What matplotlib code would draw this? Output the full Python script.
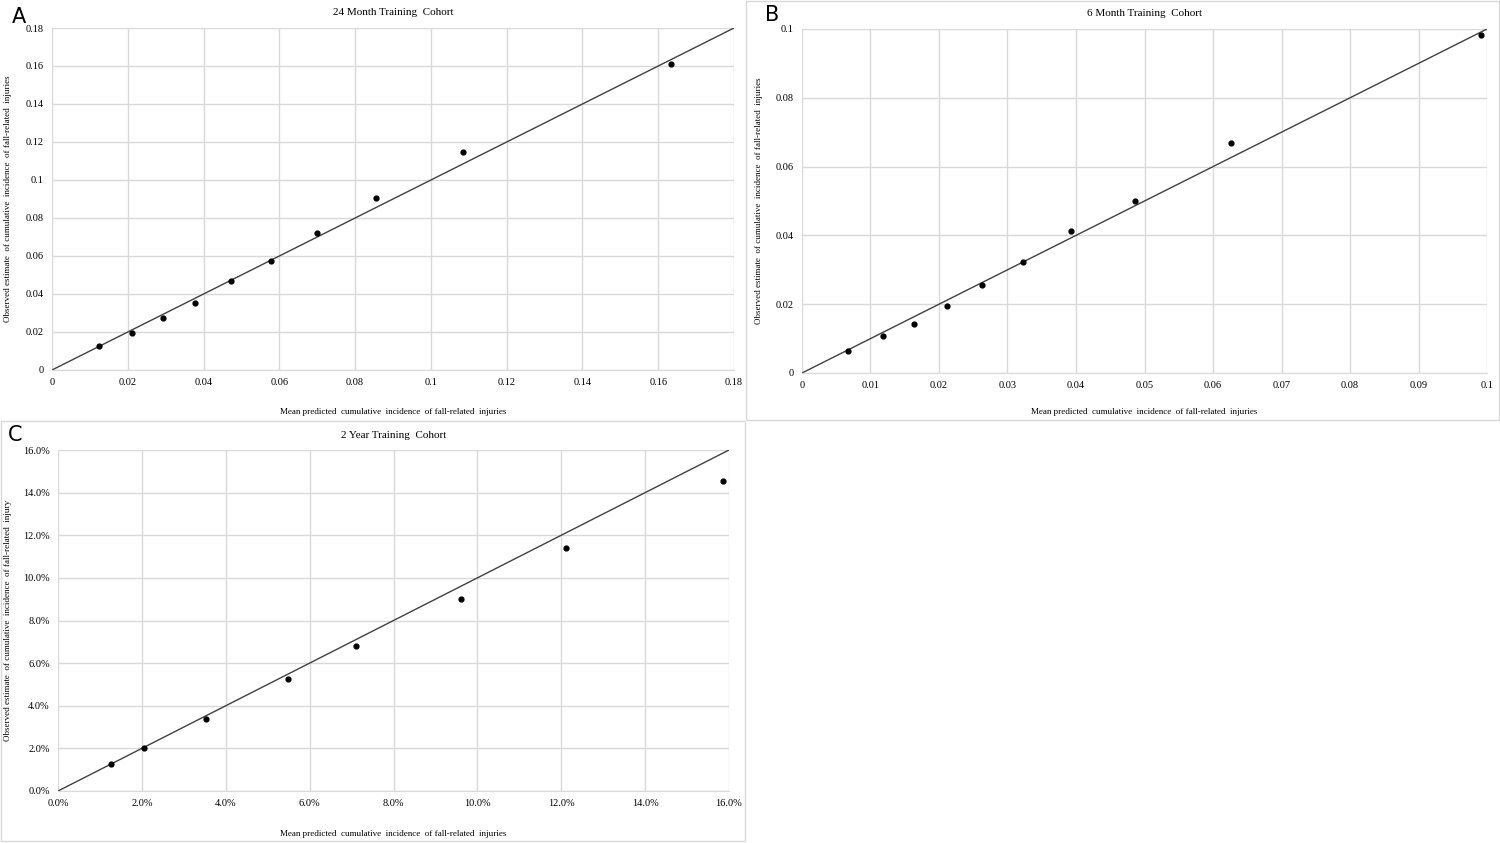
import numpy as np
import matplotlib.pyplot as plt
from matplotlib.ticker import FuncFormatter
from matplotlib.patches import Rectangle

# panel A: 24 month training cohort
pred_24m = [0.0123, 0.0211, 0.0294, 0.0378, 0.0472, 0.0577, 0.0700, 0.0856, 0.1084, 0.1634]
obs_24m = [0.0126, 0.0195, 0.0272, 0.0353, 0.0468, 0.0572, 0.0723, 0.0903, 0.1147, 0.1609]

# panel B: 6 month training cohort
pred_6m = [0.0067, 0.0118, 0.0163, 0.0211, 0.0263, 0.0322, 0.0393, 0.0486, 0.0627, 0.0991]
obs_6m = [0.0065, 0.0108, 0.0143, 0.0194, 0.0256, 0.0324, 0.0414, 0.0501, 0.0669, 0.0983]

# panel C: 2 year training cohort (fractions, shown as %)
pred_2y = [0.0127, 0.0205, 0.0352, 0.0549, 0.0711, 0.0962, 0.1211, 0.1585]
obs_2y = [0.0127, 0.0203, 0.0338, 0.0525, 0.0681, 0.0900, 0.1141, 0.1455]

titles = ["24 Month Training  Cohort", "6 Month Training  Cohort", "2 Year Training  Cohort"]
ylabels = ["Observed estimate  of cumulative  incidence  of fall-related  injuries",
           "Observed estimate  of cumulative  incidence  of fall-related  injuries",
           "Observed estimate  of cumulative  incidence  of fall-related  injury"]
xlabel = "Mean predicted  cumulative  incidence  of fall-related  injuries"
letters = ["A", "B", "C"]

serif = "Liberation Serif"
grid_col = "#d9d9d9"

fig = plt.figure(figsize=(15, 8.43), dpi=100)
W, H = 1500, 843


def add_axes(l, r, t, b):
    return fig.add_axes([l / W, 1 - b / H, (r - l) / W, (b - t) / H])


def style(ax, lim, xstep, ystep, pct=False):
    ax.set_xlim(0, lim)
    ax.set_ylim(0, lim)
    ax.set_xticks(np.arange(0, lim + xstep / 2, xstep))
    ax.set_yticks(np.arange(0, lim + ystep / 2, ystep))
    if pct:
        fmt = FuncFormatter(lambda v, p: "%.1f%%" % (v * 100))
    else:
        fmt = FuncFormatter(lambda v, p: ("%.2f" % v).rstrip("0").rstrip(".") if abs(v) > 1e-9 else "0")
    ax.xaxis.set_major_formatter(fmt)
    ax.yaxis.set_major_formatter(fmt)
    ax.grid(True, color=grid_col, linewidth=1)
    ax.set_axisbelow(True)
    for s in ["top", "right", "left"]:
        ax.spines[s].set_visible(False)
    ax.spines["bottom"].set_color(grid_col)
    ax.tick_params(length=0, labelsize=7.5, pad=6)
    for lab in ax.get_xticklabels() + ax.get_yticklabels():
        lab.set_fontfamily(serif)


panels = [
    (add_axes(52, 734, 28, 370), pred_24m, obs_24m, 0.18, 0.02, 0.02, False, (-0.111, -0.059)),
    (add_axes(802, 1487, 29, 373), pred_6m, obs_6m, 0.10, 0.01, 0.02, False, (-0.102, -0.057)),
    (add_axes(58, 729, 450, 791), pred_2y, obs_2y, 0.16, 0.02, 0.02, True, (-0.114, -0.069)),
]

for i, (ax, x, y, lim, xs, ys, pct, lc) in enumerate(panels):
    style(ax, lim, xs, ys, pct)
    ax.plot([0, lim], [0, lim], color="#404040", linewidth=1, zorder=2)
    ax.scatter(x, y, s=12, color="black", zorder=3)
    ax.set_title(titles[i], fontfamily=serif, fontsize=8, pad=9)
    ax.set_xlabel(xlabel, fontfamily=serif, fontsize=6.5)
    ax.set_ylabel(ylabels[i], fontfamily=serif, fontsize=6.5)
    ax.xaxis.set_label_coords(0.5, lc[0])
    ax.yaxis.set_label_coords(lc[1], 0.5)

fig.text(12 / W, 1 - 17 / H, "A", fontsize=15, va="center", ha="left")
fig.text(765 / W, 1 - 15 / H, "B", fontsize=15, va="center", ha="left")
fig.text(8 / W, 1 - 435 / H, "C", fontsize=15, va="center", ha="left")

# light frames around panels B and C
fig.patches.append(Rectangle((746 / W, 1 - 420 / H), 753 / W, 419 / H, transform=fig.transFigure,
                             fill=False, edgecolor=grid_col, linewidth=1))
fig.patches.append(Rectangle((1 / W, 2 / H), 744 / W, 420 / H, transform=fig.transFigure,
                             fill=False, edgecolor=grid_col, linewidth=1))

fig.savefig("out.png", dpi=100)
